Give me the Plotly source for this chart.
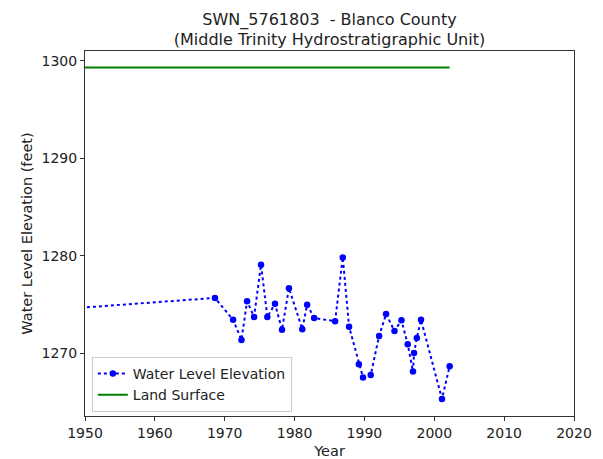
import plotly.graph_objects as go

years = [1940.0, 1968.6, 1971.2, 1972.4, 1973.2, 1974.2, 1975.2, 1976.1, 1977.2, 1978.2,
         1979.2, 1981.1, 1981.8, 1982.8, 1985.8, 1986.9, 1987.8, 1989.2, 1989.8, 1990.9,
         1992.1, 1993.1, 1994.3, 1995.3, 1996.2, 1996.95, 1997.1, 1997.5, 1998.1, 2001.1, 2002.2]
water_level = [1274.2, 1275.7, 1273.45, 1271.4, 1275.35, 1273.75, 1279.1, 1273.75, 1275.1, 1272.45,
               1276.7, 1272.5, 1275.0, 1273.65, 1273.3, 1279.85, 1272.75, 1268.9, 1267.55, 1267.8,
               1271.8, 1274.05, 1272.3, 1273.4, 1270.95, 1268.15, 1270.05, 1271.6, 1273.45, 1265.35, 1268.7]
land_years = [1940.0, 2002.2]
land_surface = [1299.3, 1299.3]

x_ticks = [1950, 1960, 1970, 1980, 1990, 2000, 2010, 2020]
y_ticks = [1270, 1280, 1290, 1300]

font = "DejaVu Sans"
txt = "#222222"

fig = go.Figure()
fig.add_trace(go.Scatter(
    x=years, y=water_level, mode="lines+markers", name="Water Level Elevation",
    line=dict(color="#0000ff", width=2, dash="dot"),
    marker=dict(color="#0000ff", size=6.5),
))
fig.add_trace(go.Scatter(
    x=land_years, y=land_surface, mode="lines", name="Land Surface",
    line=dict(color="#008000", width=2),
))

axis_common = dict(
    showline=True, mirror=True, linecolor="#333333", linewidth=1,
    showgrid=False, zeroline=False, ticks="outside", ticklen=4,
    tickcolor="#333333", tickfont=dict(family=font, size=14, color=txt),
    automargin=False,
)

fig.update_layout(
    width=595, height=451,
    margin=dict(l=77, r=29, t=43, b=43),
    paper_bgcolor="white", plot_bgcolor="white",
    title=dict(
        text="SWN_5761803  - Blanco County<br>(Middle Trinity Hydrostratigraphic Unit)",
        x=0.5, xref="paper", xanchor="center", y=0.963, yanchor="top",
        font=dict(family=font, size=16, color=txt),
    ),
    xaxis=dict(range=[1950, 2020], tickvals=x_ticks, ticklabelstandoff=0,
               title=dict(text="Year", font=dict(family=font, size=14.5, color=txt), standoff=8),
               **axis_common),
    yaxis=dict(range=[1263.6, 1301.0], tickvals=y_ticks,
               title=dict(text="Water Level Elevation (feet)", font=dict(family=font, size=14.5, color=txt), standoff=5),
               **axis_common),
    legend=dict(
        x=0.014, y=0.011, xanchor="left", yanchor="bottom",
        bgcolor="white", bordercolor="#cccccc", borderwidth=1,
        font=dict(family=font, size=14, color=txt),
        tracegroupgap=0, itemwidth=30,
    ),
    showlegend=True,
)

fig.write_html("out.html")
